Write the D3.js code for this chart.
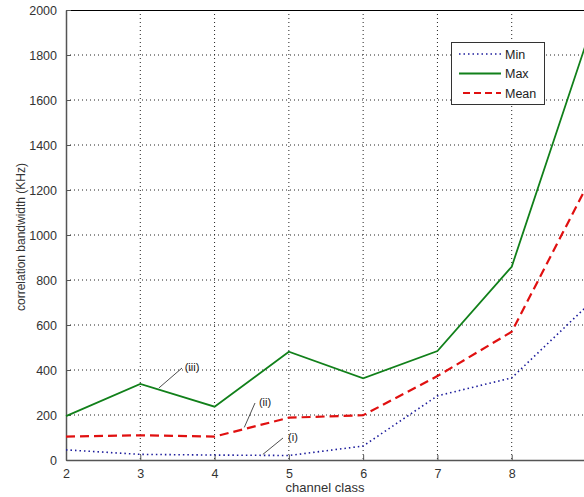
<!DOCTYPE html>
<html>
<head>
<meta charset="utf-8">
<script src="https://cdn.jsdelivr.net/npm/d3@7"></script>
<style>
  html, body { margin: 0; padding: 0; background: #fff; }
  svg { display: block; font-family: "Liberation Sans", Arial, sans-serif; }
</style>
</head>
<body>
<svg id="chart" width="584" height="497"></svg>
<script>
// Channel classes and correlation bandwidth statistics (kHz)
const classes = [2, 3, 4, 5, 6, 7, 8, 9];
const minBw  = [45, 25, 22, 20, 62, 285, 365, 680];
const maxBw  = [195, 338, 237, 481, 363, 484, 859, 1850];
const meanBw = [104, 110, 104, 188, 199, 373, 570, 1210];
const xTicks = [2, 3, 4, 5, 6, 7, 8];
const yTicks = [0, 200, 400, 600, 800, 1000, 1200, 1400, 1600, 1800, 2000];
const seriesNames = ["Min", "Max", "Mean"];
const annotations = [
  { text: "(iii)", cls: 3.25, val: 320, tx: 192, ty: 367 },
  { text: "(ii)",  cls: 4.4,  val: 145, tx: 265, ty: 402 },
  { text: "(i)",   cls: 4.65, val: 25,  tx: 293, ty: 437 }
];

const svg = d3.select("#chart");
const plotLeft = 66, plotRight = 586, plotTop = 10, plotBottom = 460;

const x = d3.scaleLinear().domain([2, 9]).range([plotLeft, plotRight]);
const y = d3.scaleLinear().domain([0, 2000]).range([plotBottom, plotTop]);

// Grid lines
const grid = svg.append("g");
grid.selectAll("line.vx").data(xTicks.slice(1)).join("line")
  .attr("x1", d => x(d)).attr("x2", d => x(d))
  .attr("y1", plotTop).attr("y2", plotBottom)
  .attr("stroke", "#222").attr("stroke-width", 1).attr("stroke-dasharray", "1,3");
grid.selectAll("line.hy").data(yTicks.slice(1, -1)).join("line")
  .attr("x1", plotLeft).attr("x2", plotRight)
  .attr("y1", d => y(d)).attr("y2", d => y(d))
  .attr("stroke", "#222").attr("stroke-width", 1).attr("stroke-dasharray", "1,3");

// Top border
svg.append("line").attr("x1", plotLeft).attr("x2", plotRight)
  .attr("y1", plotTop + 0.5).attr("y2", plotTop + 0.5)
  .attr("stroke", "#000").attr("stroke-width", 1);

// Axes with inward ticks
const xAxis = d3.axisBottom(x).tickValues(xTicks).tickSizeInner(-5).tickSizeOuter(0).tickPadding(9)
  .tickFormat(d3.format("d"));
const yAxis = d3.axisLeft(y).tickValues(yTicks).tickSizeInner(-5).tickSizeOuter(0).tickPadding(9)
  .tickFormat(d3.format("d"));

const gx = svg.append("g").attr("transform", `translate(0,${plotBottom})`).call(xAxis);
const gy = svg.append("g").attr("transform", `translate(${plotLeft},0)`).call(yAxis);
[gx, gy].forEach(g => {
  g.select(".domain").attr("stroke", "#555").attr("stroke-width", 1.5);
  g.selectAll(".tick line").attr("stroke", "#555");
  g.selectAll(".tick text").attr("fill", "#333").attr("font-size", 12.5)
    .attr("font-family", "'Liberation Sans', Arial, sans-serif");
});

// Series lines
const line = vals => d3.line().x((d, i) => x(classes[i])).y(d => y(d))(vals);
svg.append("path").attr("d", line(minBw)).attr("fill", "none")
  .attr("stroke", "#1c1c9c").attr("stroke-width", 1.6).attr("stroke-dasharray", "1.5,3");
svg.append("path").attr("d", line(maxBw)).attr("fill", "none")
  .attr("stroke", "#11801a").attr("stroke-width", 1.8);
svg.append("path").attr("d", line(meanBw)).attr("fill", "none")
  .attr("stroke", "#e01010").attr("stroke-width", 2.2).attr("stroke-dasharray", "9,5");

// Annotation callouts
const ann = svg.append("g");
annotations.forEach(a => {
  ann.append("line")
    .attr("x1", x(a.cls)).attr("y1", y(a.val))
    .attr("x2", a.tx - 10).attr("y2", a.ty + 1)
    .attr("stroke", "#222").attr("stroke-width", 0.8);
  ann.append("text").attr("x", a.tx).attr("y", a.ty + 4)
    .attr("text-anchor", "middle").attr("font-size", 11).attr("fill", "#222").text(a.text);
});

// Legend
const lg = svg.append("g");
lg.append("rect").attr("x", 451.5).attr("y", 42.5).attr("width", 93).attr("height", 62)
  .attr("fill", "#fff").attr("stroke", "#333").attr("stroke-width", 1);
const legendStyles = [
  { stroke: "#1c1c9c", w: 1.6, dash: "1.5,3", x1: 459 },
  { stroke: "#11801a", w: 1.8, dash: null, x1: 459 },
  { stroke: "#e01010", w: 2.2, dash: "7,4", x1: 463 }
];
seriesNames.forEach((name, i) => {
  const ly = 54 + i * 19.5;
  const s = legendStyles[i];
  lg.append("line").attr("x1", s.x1).attr("x2", 501).attr("y1", ly).attr("y2", ly)
    .attr("stroke", s.stroke).attr("stroke-width", s.w)
    .attr("stroke-dasharray", s.dash);
  lg.append("text").attr("x", 505).attr("y", ly + 4.5).attr("font-size", 12.5)
    .attr("fill", "#222").text(name);
});

// Axis titles
svg.append("text").attr("x", (plotLeft + plotRight) / 2 - 1).attr("y", 492)
  .attr("text-anchor", "middle").attr("font-size", 13).attr("fill", "#333").text("channel class");
svg.append("text").attr("transform", `translate(25,${(plotTop + plotBottom) / 2 + 2}) rotate(-90)`)
  .attr("text-anchor", "middle").attr("font-size", 12).attr("fill", "#333")
  .text("correlation bandwidth (KHz)");
</script>
</body>
</html>
